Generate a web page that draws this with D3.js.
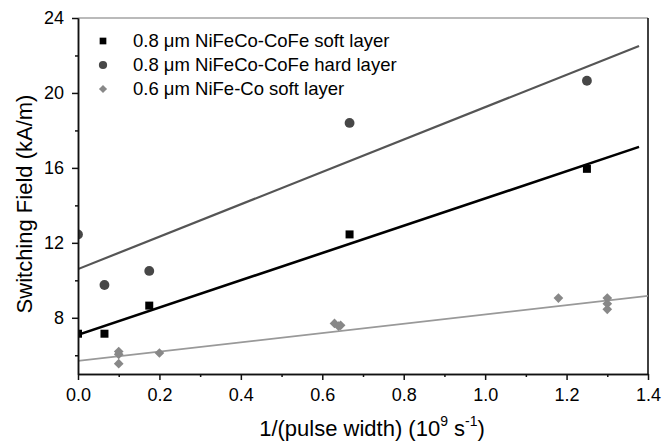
<!DOCTYPE html>
<html>
<head>
<meta charset="utf-8">
<script src="https://cdn.jsdelivr.net/npm/d3@7"></script>
<style>
  body { margin: 0; background: #fff; }
  svg { display: block; font-family: "Liberation Sans", Arial, sans-serif; }
  .axis text { font-size: 18px; fill: #000; }
  .axis path, .axis line { stroke: #111; stroke-width: 1.5; }
  .axis-title { font-size: 22px; fill: #000; }
  .legend text { font-size: 18.5px; fill: #000; }
</style>
</head>
<body>
<svg id="chart"></svg>
<script>
// Series names (legend order)
const seriesNames = [
  '0.8 \u03bcm NiFeCo-CoFe soft layer',
  '0.8 \u03bcm NiFeCo-CoFe hard layer',
  '0.6 \u03bcm NiFe-Co soft layer'
];

const softX = [0, 0.065, 0.175, 0.667, 1.25];
const softY = [7.15, 7.15, 8.65, 12.45, 15.95];

const hardX = [0, 0.065, 0.175, 0.667, 1.25];
const hardY = [12.45, 9.75, 10.5, 18.4, 20.65];

const nifeX = [0.1, 0.1, 0.1, 0.2, 0.63, 0.645, 0.64, 1.18, 1.3, 1.3, 1.3];
const nifeY = [6.2, 6.05, 5.55, 6.12, 7.7, 7.6, 7.55, 9.05, 9.05, 8.75, 8.45];

// Linear fits (intercept, slope, last x of the line)
const fitIntercepts = [7.09, 10.6, 5.7];
const fitSlopes = [7.28, 8.64, 2.48];
const fitXEnd = [1.378, 1.378, 1.4];

// Axis ticks
const xTicks = [0, 0.2, 0.4, 0.6, 0.8, 1.0, 1.2, 1.4];
const xMinorTicks = [0.1, 0.3, 0.5, 0.7, 0.9, 1.1, 1.3];
const yTicks = [8, 12, 16, 20, 24];
const yMinorTicks = [6, 10, 14, 18, 22];

class Scatter {

  constructor(_config) {
    this.config = {
      parentElement: _config.parentElement,
      containerWidth: 672,
      containerHeight: 443,
      margin: {top: 18, right: 24, bottom: 69, left: 78}
    };
    this.initVis();
  }

  initVis() {
    let vis = this;

    vis.width = vis.config.containerWidth - vis.config.margin.left - vis.config.margin.right;
    vis.height = vis.config.containerHeight - vis.config.margin.top - vis.config.margin.bottom;

    vis.xScale = d3.scaleLinear().domain([0, 1.4]).range([0, vis.width]);
    vis.yScale = d3.scaleLinear().domain([5, 24]).range([vis.height, 0]);

    vis.svg = d3.select(vis.config.parentElement)
        .attr('width', vis.config.containerWidth)
        .attr('height', vis.config.containerHeight);

    vis.chart = vis.svg.append('g')
        .attr('transform', `translate(${vis.config.margin.left},${vis.config.margin.top})`);

    vis.chart.append('clipPath')
        .attr('id', 'plot-clip')
      .append('rect')
        .attr('width', vis.width)
        .attr('height', vis.height);

    // series: name, points, marker, colour
    vis.series = [
      {name: seriesNames[0], x: softX, y: softY, symbol: d3.symbolSquare, size: 64, color: '#000'},
      {name: seriesNames[1], x: hardX, y: hardY, symbol: d3.symbolCircle, size: 76, color: '#474747'},
      {name: seriesNames[2], x: nifeX, y: nifeY, symbol: d3.symbolDiamond2, size: 60, color: '#888'}
    ];
    vis.fitStyles = [
      {color: '#000', width: 2.6},
      {color: '#555', width: 2.2},
      {color: '#999', width: 1.7}
    ];

    vis.renderVis();
  }

  renderVis() {
    let vis = this;

    // Frame: grey top, black right
    vis.chart.append('line')
        .attr('x1', 0).attr('x2', vis.width).attr('y1', 0).attr('y2', 0)
        .attr('stroke', '#777').attr('stroke-width', 1.2);
    vis.chart.append('line')
        .attr('x1', vis.width).attr('x2', vis.width).attr('y1', 0).attr('y2', vis.height)
        .attr('stroke', '#111').attr('stroke-width', 1.6);

    let plot = vis.chart.append('g').attr('clip-path', 'url(#plot-clip)');

    // Fit lines
    fitIntercepts.forEach((b, i) => {
      plot.append('line')
          .attr('x1', vis.xScale(0))
          .attr('y1', vis.yScale(b))
          .attr('x2', vis.xScale(fitXEnd[i]))
          .attr('y2', vis.yScale(b + fitSlopes[i] * fitXEnd[i]))
          .attr('stroke', vis.fitStyles[i].color)
          .attr('stroke-width', vis.fitStyles[i].width);
    });

    // Markers
    vis.series.forEach(s => {
      plot.selectAll(null)
          .data(d3.zip(s.x, s.y))
        .join('path')
          .attr('d', d3.symbol(s.symbol, s.size))
          .attr('transform', d => `translate(${vis.xScale(d[0])},${vis.yScale(d[1])})`)
          .attr('fill', s.color);
    });

    // Axes
    let xAxis = d3.axisBottom(vis.xScale).tickValues(xTicks).tickFormat(d3.format('.1f'))
        .tickSize(6).tickPadding(8).tickSizeOuter(0);
    let xMinor = d3.axisBottom(vis.xScale).tickValues(xMinorTicks).tickFormat('').tickSize(3).tickSizeOuter(0);
    let yAxis = d3.axisLeft(vis.yScale).tickValues(yTicks).tickSize(6).tickPadding(8).tickSizeOuter(0);
    let yMinor = d3.axisLeft(vis.yScale).tickValues(yMinorTicks).tickFormat('').tickSize(3).tickSizeOuter(0);

    vis.chart.append('g').attr('class', 'axis x-axis')
        .attr('transform', `translate(0,${vis.height})`).call(xAxis);
    vis.chart.append('g').attr('class', 'axis x-axis')
        .attr('transform', `translate(0,${vis.height})`).call(xMinor);
    vis.chart.append('g').attr('class', 'axis y-axis').call(yAxis);
    vis.chart.append('g').attr('class', 'axis y-axis').call(yMinor);
    vis.chart.selectAll('.axis .domain').attr('stroke-width', 1.8);

    // Axis titles
    let xTitle = vis.svg.append('text')
        .attr('class', 'axis-title')
        .attr('x', vis.config.margin.left + vis.width / 2 + 9)
        .attr('y', 436)
        .style('text-anchor', 'middle');
    xTitle.append('tspan').text('1/(pulse width) (10');
    xTitle.append('tspan').attr('dy', -10).style('font-size', '14px').text('9');
    xTitle.append('tspan').attr('dy', 10).text(' s');
    xTitle.append('tspan').attr('dy', -10).style('font-size', '14px').text('-1');
    xTitle.append('tspan').attr('dy', 10).text(')');

    vis.svg.append('text')
        .attr('class', 'axis-title')
        .attr('transform', `translate(32,${vis.config.margin.top + vis.height / 2 + 8}) rotate(-90)`)
        .style('text-anchor', 'middle')
        .text('Switching Field (kA/m)');

    // Legend
    let legend = vis.chart.append('g').attr('class', 'legend');
    vis.series.forEach((s, i) => {
      let row = legend.append('g').attr('transform', `translate(25,${23 + i * 24})`);
      row.append('path')
          .attr('d', d3.symbol(s.symbol, s.size * 0.7))
          .attr('fill', s.color);
      row.append('text')
          .attr('x', 30)
          .attr('dy', '0.35em')
          .text(s.name);
    });
  }
}

new Scatter({parentElement: '#chart'});
</script>
</body>
</html>
